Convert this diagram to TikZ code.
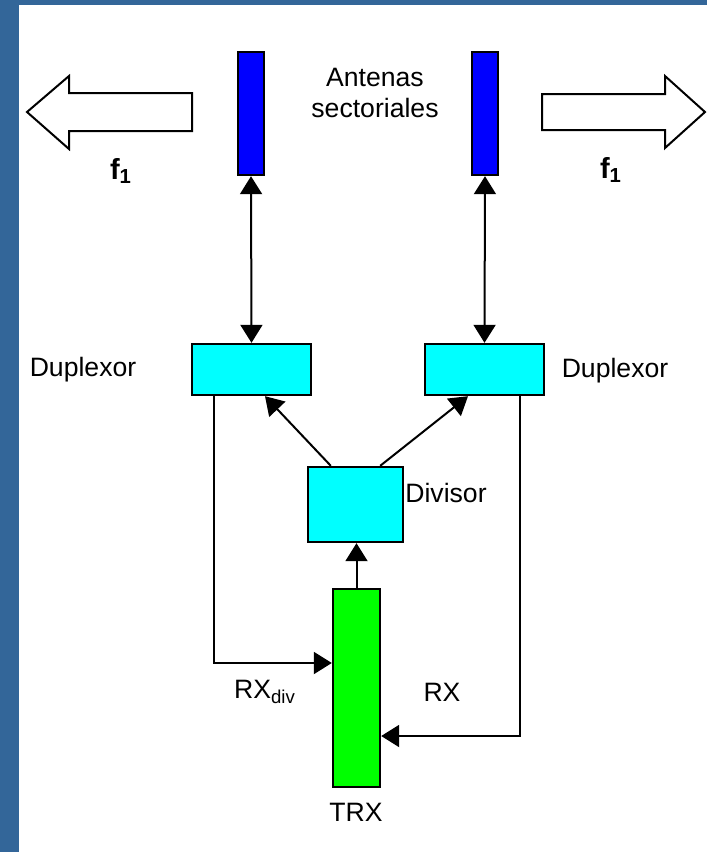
\documentclass[tikz,border=0pt]{standalone}
\usepackage{fontspec}
\setmainfont{Liberation Sans}
\usepackage{tikz}
\usetikzlibrary{
  arrows.meta,
  calc,
  positioning
}
\definecolor{FrameBlue}{HTML}{336699}
\definecolor{AntBlue}{HTML}{0000FF}
\definecolor{DupCyan}{HTML}{00FFFF}
\definecolor{TrxGreen}{HTML}{00FF00}
\tikzset{
  every node/.style = {font=\fontsize{13.3}{15.5}\selectfont, text=black},
  block/.style = {
    draw=black,
    line width=1.2pt,
    inner sep=0pt
  },
  block antenna/.style = {block, fill=AntBlue, minimum width=13pt, minimum height=61.5pt},
  block duplexor/.style = {block, fill=DupCyan, minimum width=59.5pt, minimum height=25.5pt},
  block divisor/.style = {block, fill=DupCyan, minimum width=47.5pt, minimum height=37.5pt},
  block trx/.style = {block, fill=TrxGreen, minimum width=23.5pt, minimum height=99pt},
  signal/.style = {-{Triangle[length=9pt,width=11pt]}, draw=black, line width=1pt},
  bidir/.style = {{Triangle[length=9pt,width=11pt]}-{Triangle[length=9pt,width=11pt]}, draw=black, line width=1pt},
  big arrow/.style = {draw=black, fill=white, line width=1pt},
  freq label/.style = {font=\fontsize{14.5}{16}\selectfont\bfseries},
}

\begin{document}
\begin{tikzpicture}[x=0.5pt,y=-0.5pt]
  \useasboundingbox (0,0) rectangle (707,852);
  \fill[FrameBlue] (0,0) rectangle (707,852);
  \fill[white] (19,5) rectangle (707,852);

  % radiated beams
  \draw[big arrow] (27,112) -- (69,76) -- (69,93) -- (192,93) -- (192,131) -- (69,131) -- (69,149) -- cycle;
  \draw[big arrow] (542,94) -- (665,94) -- (665,76) -- (705,112) -- (665,148) -- (665,130) -- (542,130) -- cycle;
  \node[freq label] (fleft) at (121,171) {f\textsubscript{1}};
  \node[freq label] (fright) at (611,170) {f\textsubscript{1}};

  \node[block antenna] (antL) at (251,113.5) {};
  \node[block antenna] (antR) at (485,113.5) {};
  \node[align=center] (antlabel) at (375,93) {Antenas\\sectoriales};

  \node[block duplexor] (dupL) at (251.5,369.5) {};
  \node[block duplexor] (dupR) at (484.5,369.5) {};
  \node (duplabL) at (83,370) {Duplexor};
  \node (duplabR) at (615,371) {Duplexor};

  \node[block divisor] (div) at (355.5,504.5) {};
  \node (divlabel) at (446,493) {Divisor};

  \node[block trx] (trx) at (356.5,688) {};
  \node (trxlabel) at (356,812) {TRX};

  \draw[bidir] (antL.south) -- (dupL.north);
  \draw[bidir] (antR.south) -- (dupR.north);

  \draw[signal] ($(div.north west)+(24,0)$) -- ($(dupL.south)+(13.5,0)$);
  \draw[signal] ($(div.north east)+(-24,0)$) -- ($(dupR.south)+(-16.5,0)$);
  \draw[signal] (trx.north) -- (trx.north|-div.south);

  \draw[signal] ($(dupL.south west)+(23,0)$) |- ($(trx.west)+(0,-25)$);
  \draw[signal] ($(dupR.south east)+(-25,0)$) |- ($(trx.east)+(0,48)$);

  \node (rxdiv) at (265,692) {RX\textsubscript{div}};
  \node (rx) at (442,692) {RX};
\end{tikzpicture}
\end{document}
